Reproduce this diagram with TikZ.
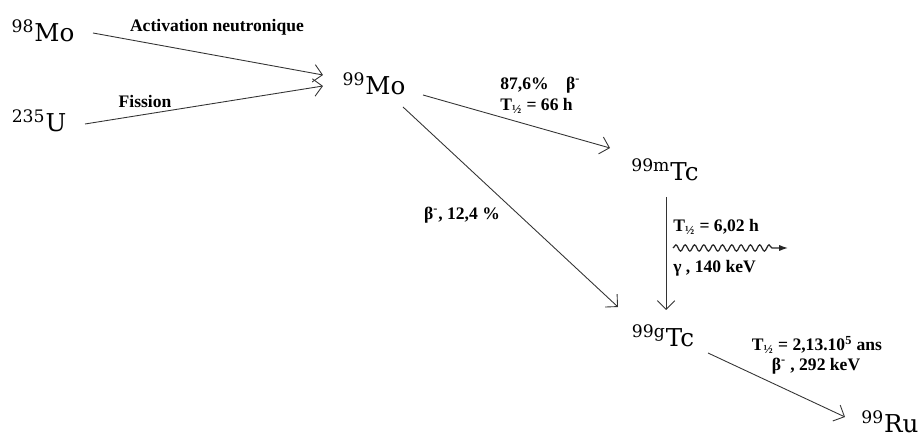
\documentclass[tikz,border=0pt]{standalone}
\usepackage{fontspec}
\newfontfamily\labfont[BoldFont={Liberation Serif Bold}]{Liberation Serif}
\newfontfamily\nucfont{DejaVu Serif}
\usetikzlibrary{arrows.meta,calc,decorations.pathmorphing}

\begin{document}
\begin{tikzpicture}[x=0.02cm, y=-0.02cm,
    arrow/.style={-{Straight Barb[length=5pt,width=10pt]}, draw=black!80, line width=0.5pt},
    photon/.style={-{Latex[length=5pt,width=3.5pt]}, draw=black!85, line width=0.7pt, decorate, decoration={snake, amplitude=1.8pt, segment length=5.3pt, post length=8pt}},
    nuclide/.style={font=\nucfont\fontsize{14}{17}\selectfont, inner sep=0pt},
    lab/.style={font=\labfont\bfseries\fontsize{10}{12}\selectfont, inner sep=0pt, align=center}]

    \useasboundingbox (0,0) rectangle (920,438);

    % nuclides
    \node [nuclide] (mo98) at (43,31) {\textsuperscript{98}Mo};
    \node [nuclide] (u235) at (39,121) {\textsuperscript{235}U};
    \node [nuclide] (mo99) at (374,84) {\textsuperscript{99}Mo};
    \node [nuclide] (tcm) at (665,170) {\textsuperscript{99m}Tc};
    \node [nuclide] (tcg) at (663,336) {\textsuperscript{99g}Tc};
    \node [nuclide] (ru) at (890,422) {\textsuperscript{99}Ru};

    % decays
    \draw[arrow] ($(mo98)+(50,2)$) -- ($(mo99)+(-51,-9)$);
    \draw[arrow] ($(u235)+(46,3)$) -- ($(mo99)+(-51,2)$);
    \draw[arrow] ($(mo99)+(49,11)$) -- ($(tcm)+(-55,-22)$);
    \draw[arrow] ($(mo99)+(29,23)$) -- ($(tcg)+(-45,-29)$);
    \draw[arrow] ($(tcm)+(1,27)$) -- ($(tcm)+(1,140)$);
    \draw[arrow] ($(tcg)+(45,17)$) -- ($(ru)+(-45,-5)$);

    % gamma
    \coordinate (gs) at (673,248);
    \coordinate (ge) at (788,248);
    \draw[photon] (gs) -- (ge);

    % labels
    \node [lab] (actlab) at (217,27) {Activation neutronique};
    \node [lab] (fislab) at (145,101) {Fission};
    \node [lab, anchor=west] (brlab) at (500,85) {87,6\%\quad β\textsuperscript{-}};
    \node [lab, anchor=west] (molab) at (500,106) {T\textsubscript{½} = 66 h};
    \node [lab] (brglab) at (462,215) {β\textsuperscript{-}, 12,4 \%};
    \node [lab, anchor=west] (tclab) at (673,227) {T\textsubscript{½} = 6,02 h};
    \node [lab, anchor=west] (gamlab) at (673,268) {γ , 140 keV};
    \node [lab] (tcglab) at (817,345) {T\textsubscript{½} = 2,13.10\textsuperscript{5} ans};
    \node [lab] (rulab) at (816,366) {β\textsuperscript{-} , 292 keV};

\end{tikzpicture}
\end{document}
